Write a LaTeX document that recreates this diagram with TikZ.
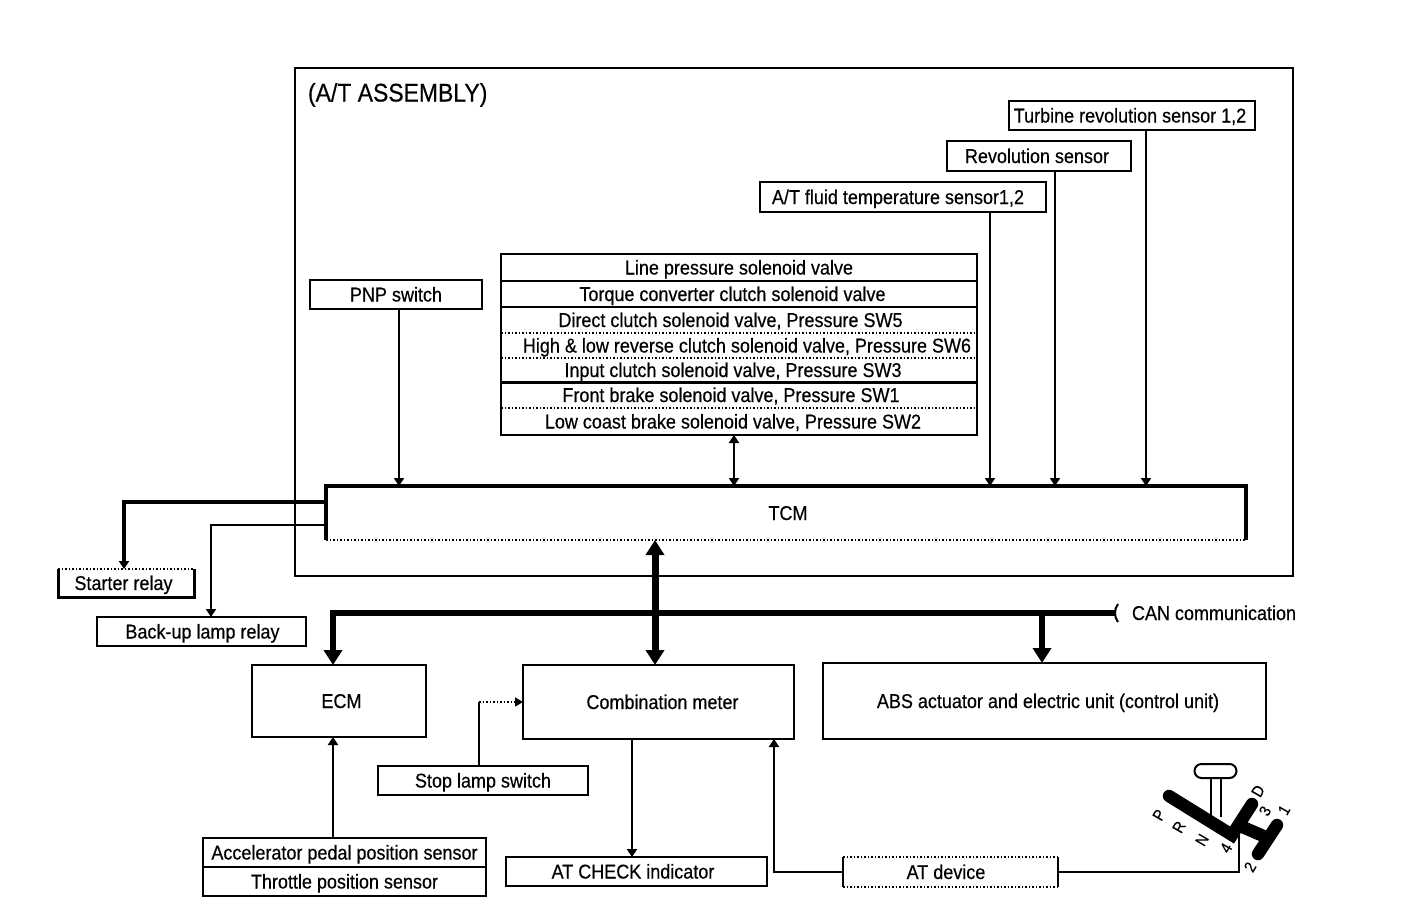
\documentclass[tikz,border=0pt]{standalone}
\usepackage{fontspec}
\setmainfont{Liberation Sans}[FakeStretch=0.9, FakeBold=0.4]
\usetikzlibrary{arrows.meta,positioning,calc}
\newcommand{\nudge}[1]{\hspace*{\dimexpr#1pt*2\relax}}

\begin{document}
\begin{tikzpicture}[x=1pt, y=-1pt, font=\fontsize{20}{24}\selectfont]
    \tikzstyle{box} = [rectangle, draw, line width=2pt, inner sep=0pt, outer sep=0pt, text centered, text height=17pt, text depth=3pt]
    \tikzstyle{open} = [rectangle, inner sep=0pt, outer sep=0pt, text centered, text height=17pt, text depth=3pt]
    \tikzstyle{row} = [open, minimum width=476pt]
    \tikzstyle{sig} = [draw, line width=2.2pt, -{Triangle[length=8pt,width=10pt]}]
    \tikzstyle{bus} = [draw, line width=6pt, -{Triangle[length=15pt,width=18pt]}]
    \tikzstyle{dots} = [draw, line width=1.5pt, dotted]
    \useasboundingbox (0,0) rectangle (1408,922);

    \node [rectangle, draw, line width=1.3pt, minimum width=998pt, minimum height=508pt] (assembly) at (794,322) {};
    \node [open, right, text height=20pt] (title) at (308,93) {\fontsize{25.5}{28}\selectfont (A/T ASSEMBLY)};

    \node [box, minimum width=246pt, minimum height=29pt] (turbine) at (1132,115.5) {\nudge{-2}Turbine revolution sensor 1,2};
    \node [box, minimum width=184pt, minimum height=30pt] (revolution) at (1039,156) {\nudge{-2}Revolution sensor};
    \node [box, minimum width=286pt, minimum height=30pt] (fluid) at (903,197) {\nudge{-5}A/T fluid temperature sensor1,2};
    \node [box, minimum width=172pt, minimum height=29pt] (pnp) at (396,294.5) {PNP switch};

    % solenoid stack
    \node [row, minimum height=27pt] (line) at (739,267.5) {Line pressure solenoid valve};
    \node [row, minimum height=26pt, below=0pt of line] (torque) {\nudge{-6.5}Torque converter clutch solenoid valve};
    \node [row, minimum height=26pt, below=0pt of torque] (direct) {\nudge{-8.5}Direct clutch solenoid valve, Pressure SW5};
    \node [row, minimum height=25pt, below=0pt of direct] (high) {\nudge{8}High \& low reverse clutch solenoid valve, Pressure SW6};
    \node [row, minimum height=24pt, below=0pt of high] (input) {\nudge{-6}Input clutch solenoid valve, Pressure SW3};
    \node [row, minimum height=26pt, below=0pt of input] (front) {\nudge{-8}Front brake solenoid valve, Pressure SW1};
    \node [row, minimum height=27pt, below=0pt of front] (low) {\nudge{-6}Low coast brake solenoid valve, Pressure SW2};
    \path [draw, line width=2pt] (line.north west) rectangle (low.south east);
    \path [draw, line width=2pt] (line.south west) -- (line.south east);
    \path [draw, line width=2pt] (torque.south west) -- (torque.south east);
    \path [dots] (direct.south west) -- (direct.south east);
    \path [dots] (high.south west) -- (high.south east);
    \path [draw, line width=3pt] (input.south west) -- (input.south east);
    \path [dots] (front.south west) -- (front.south east);

    % TCM has heavy sides and a dotted bottom
    \node [open, minimum width=920pt, minimum height=54pt] (tcm) at (786,513) {\nudge{2}TCM};
    \path [draw, line width=3.5pt] (tcm.south west) |- (tcm.north east) -- (tcm.south east);
    \path [dots] (tcm.south west) -- (tcm.south east);

    \node [open, minimum width=136pt, minimum height=28pt] (starter) at (126,583) {\nudge{-2.5}Starter relay};
    \path [draw, line width=3pt] (starter.north west) |- (starter.south east) -- (starter.north east);
    \path [dots] (starter.north west) -- (starter.north east);
    \node [box, minimum width=209pt, minimum height=29pt] (backup) at (201.5,631.5) {\nudge{1}Back-up lamp relay};

    \node [box, line width=2.5pt, minimum width=174pt, minimum height=72pt] (ecm) at (339,701) {\nudge{2.5}ECM};
    \node [box, line width=2.5pt, minimum width=271pt, minimum height=74pt] (meter) at (658.5,702) {\nudge{4}Combination meter};
    \node [box, minimum width=443pt, minimum height=76pt] (abs) at (1044.5,701) {\nudge{3.5}ABS actuator and electric unit (control unit)};
    \node [box, minimum width=210pt, minimum height=29pt] (stoplamp) at (483,780.5) {Stop lamp switch};
    \node [box, minimum width=283pt, minimum height=29pt] (accel) at (344.5,852.5) {Accelerator pedal position sensor};
    \node [box, minimum width=283pt, minimum height=29pt, below=0pt of accel] (throttle) {Throttle position sensor};
    \node [box, minimum width=261pt, minimum height=29pt] (check) at (636.5,871.5) {\nudge{-3.5}AT CHECK indicator};

    \node [open, minimum width=215pt, minimum height=30pt] (device) at (950.5,872) {\nudge{-4.5}AT device};
    \path [draw, line width=2pt] (device.north west) -- (device.south west);
    \path [draw, line width=2pt] (device.north east) -- (device.south east);
    \path [dots] (device.north west) -- (device.north east);
    \path [dots] (device.south west) -- (device.south east);

    \node [open, right] (can) at (1132,613) {CAN communication};

    % where the lines leave and enter the boxes
    \coordinate (pnpx) at (399,0);
    \coordinate (stackx) at (734,0);
    \coordinate (fluidx) at (990,0);
    \coordinate (revolutionx) at (1055,0);
    \coordinate (turbinex) at (1146,0);
    \coordinate (starterx) at (124,0);
    \coordinate (backupx) at (211,0);
    \coordinate (startery) at (0,502);
    \coordinate (backupy) at (0,525);
    \coordinate (tcmx) at (655,0);
    \coordinate (busy) at (0,613);
    \coordinate (busend) at (1116,613);
    \coordinate (ecmx) at (333,0);
    \coordinate (absx) at (1042,0);
    \coordinate (stopx) at (479,0);
    \coordinate (checkx) at (632,0);
    \coordinate (devicex) at (774,0);
    \coordinate (levertop) at (1239,835);

    \path [sig] (pnpx |- pnp.south) -- (pnpx |- tcm.north);
    \path [sig] (fluidx |- fluid.south) -- (fluidx |- tcm.north);
    \path [sig] (revolutionx |- revolution.south) -- (revolutionx |- tcm.north);
    \path [sig] (turbinex |- turbine.south) -- (turbinex |- tcm.north);
    \path [sig, {Triangle[length=8pt,width=10pt]}-{Triangle[length=8pt,width=10pt]}] (stackx |- low.south) -- (stackx |- tcm.north);

    \path [sig, line width=4pt] (tcm.west |- startery) -| (starterx |- starter.north);
    \path [sig, line width=2.5pt] (tcm.west |- backupy) -| (backupx |- backup.north);

    \path [bus, line width=7pt, {Triangle[length=15pt,width=18pt]}-{Triangle[length=15pt,width=18pt]}] (tcmx |- tcm.south) -- (tcmx |- ecm.north);
    \path [bus] (busend) -- (ecmx |- busy) -- (ecmx |- ecm.north);
    \path [bus] (absx |- busy) -- (absx |- abs.north);
    \path [draw, line width=2pt] (1118,604) .. controls (1114,609) and (1114,617) .. (1118,622);

    \path [sig] (ecmx |- accel.north) -- (ecmx |- ecm.south);
    \path [draw, line width=1.5pt] (stopx |- stoplamp.north) -- (stopx |- meter.west);
    \path [dots, -{Triangle[length=8pt,width=9pt]}] (stopx |- meter.west) -- (meter.west);
    \path [sig] (checkx |- meter.south) -- (checkx |- check.north);
    \path [sig] (device.west) -| (devicex |- meter.south);
    \path [draw, line width=2pt] (device.east) -| (levertop);

    % selector lever
    \node [rectangle, draw, line width=2pt, rounded corners=7pt, minimum width=42pt, minimum height=14pt, inner sep=0pt] (knob) at (1215.5,771) {};
    \coordinate (stemleft) at (1211,817);
    \coordinate (stemright) at (1221,817);
    \path [draw, line width=2pt] (stemleft |- knob.south) -- (stemleft);
    \path [draw, line width=2pt] (stemright |- knob.south) -- (stemright);
    \path [draw, line width=12.5pt, line cap=round] (1169,796) -- (1232,835) -- (1252,804);
    \path [draw, line width=12.5pt] (1238,825) -- (1268,838);
    \path [draw, line width=12.5pt, line cap=round] (1277,825) -- (1258,854);
    \begin{scope}[every node/.style={font=\fontsize{16}{18}\selectfont, rotate=60, inner sep=0pt}]
        \node (gearp) at (1159,815) {P};
        \node (gearr) at (1179,827) {R};
        \node (gearn) at (1202,840) {N};
        \node (gearfour) at (1226,848) {4};
        \node (geartwo) at (1250,867) {2};
        \node (geard) at (1258,791) {D};
        \node (gearthree) at (1265,811) {3};
        \node (gearone) at (1284,810) {1};
    \end{scope}
\end{tikzpicture}
\end{document}
